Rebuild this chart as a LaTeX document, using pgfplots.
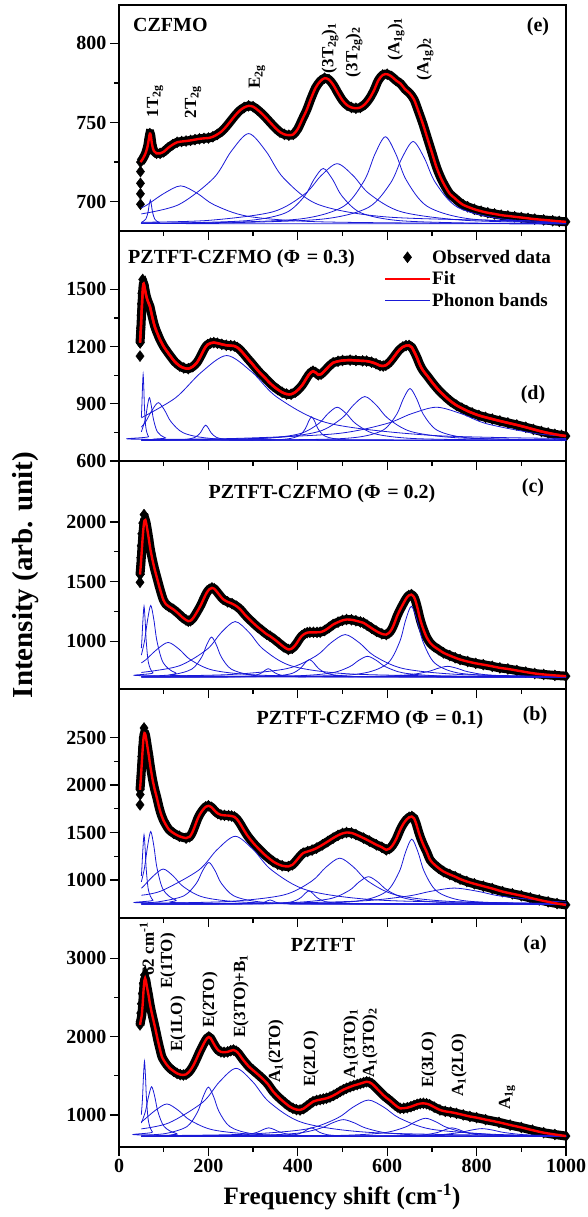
\documentclass[border=0pt]{standalone}
\usepackage{fontspec}
\setmainfont{Liberation Serif}
\usepackage{pgfplots}
\pgfplotsset{compat=1.18}
\usepackage{pgfplotstable}
\definecolor{bandblue}{RGB}{25,25,215}

\pgfplotstableread{
x y
48 725
52 726.5
56 728.5
60 731
64 735
67 740
69 743
71 742
74 736
78 732
84 730.5
92 730.5
100 731.5
110 734
120 736
130 737.5
140 738
150 738.3
160 738.7
170 739.2
180 739.7
190 740
200 740.2
210 741
220 742.5
230 744.5
240 747.5
250 751
260 754.5
270 757.5
280 759.5
290 760.5
300 760
310 758
320 755.5
330 752.6
340 749.5
350 746.5
360 744
370 742.5
380 742
390 742.5
400 746
410 752
420 758
430 765.5
440 772
450 776
460 778
470 777
480 773.5
490 768.5
500 764
510 761
520 759.5
530 759
540 759.5
550 761.5
560 765
570 770
580 776.5
590 780
600 780.5
610 779
620 776.5
630 774.5
640 771
650 768.5
660 764.5
670 757
680 749
690 740
700 731
710 722
720 715
730 709.5
740 705
750 702.5
760 700
770 698
780 696.8
795 695.2
810 694
825 693
840 692.3
855 691.5
870 691
885 690.5
900 690
915 689.5
930 689
950 688.5
970 688
985 687.6
1000 687.3
}\tabE

\pgfplotstableread{
x y
47 1220
49 1300
51 1400
53 1490
54.5 1528
56 1525
58 1500
61 1465
65 1435
69 1412
74 1360
80 1305
86 1268
92 1235
100 1200
107 1176
115 1150
125 1120
136 1098
145 1088
155 1084
165 1095
174 1115
180 1138
186 1165
192 1192
198 1210
205 1218
212 1221
220 1218
230 1212
240 1207
250 1205
258 1203
265 1195
272 1180
279 1162
286 1142
295 1118
305 1090
315 1063
325 1040
335 1015
345 993
355 975
365 960
375 951
385 950
395 962
405 984
412 1005
418 1028
424 1050
429 1064
434 1071
440 1064
446 1052
452 1055
458 1068
465 1085
472 1102
479 1115
490 1123
500 1127
517 1129
530 1127
545 1125
554 1124
565 1118
575 1110
584 1100
591 1098
597 1102
603 1112
609 1128
615 1146
621 1165
628 1185
635 1198
642 1205
649 1206
655 1196
661 1170
667 1140
673 1105
680 1075
690 1045
703 1005
715 972
728 942
741 915
755 892
767 877
778 864
790 852
805 839
820 829
835 820
852 810
870 800
890 789
910 777
927 766
945 755
960 747
975 740
990 734
1000 731
}\tabD

\pgfplotstableread{
x y
47 1559
49 1650
51 1760
53 1870
55 1960
57 2010
59 2015
61 1985
64 1920
67 1850
70 1775
75 1680
80 1600
84 1544
90 1460
95 1395
99 1349
105 1310
112 1290
122 1266
132 1235
142 1200
150 1178
155 1168
160 1172
166 1195
172 1230
178 1268
184 1310
190 1360
196 1405
202 1435
208 1447
213 1440
219 1415
226 1382
233 1352
243 1330
253 1315
263 1293
272 1265
281 1225
290 1190
300 1154
310 1120
320 1090
330 1060
338 1042
348 1015
358 985
368 955
379 931
388 942
396 975
403 1015
409 1045
415 1062
421 1072
427 1075
435 1075
443 1075
450 1076
460 1090
470 1115
479 1140
490 1160
500 1175
509 1182
520 1180
530 1172
540 1162
547 1154
555 1135
565 1110
576 1084
588 1062
598 1056
604 1070
610 1100
616 1150
622 1210
629 1266
636 1315
642 1355
648 1383
654 1391
660 1370
664 1330
668 1275
672 1210
676 1155
681 1100
688 1035
696 987
705 955
715 930
726 903
740 880
752 862
763 847
780 830
798 815
815 804
835 790
852 777
870 768
890 755
910 742
930 730
950 722
975 714
1000 708
}\tabC

\pgfplotstableread{
x y
47 1949
49 2080
51 2230
53 2380
55 2500
57 2546
59 2530
61 2480
64 2390
67 2300
70 2200
75 2060
80 1950
84 1879
90 1760
95 1680
99 1633
105 1580
112 1530
122 1493
135 1460
150 1441
158 1455
164 1500
170 1570
176 1645
182 1700
188 1740
194 1770
200 1781
207 1765
214 1730
221 1700
228 1685
236 1680
245 1678
252 1673
258 1665
264 1640
270 1600
277 1545
286 1476
295 1420
305 1365
315 1317
325 1270
335 1230
345 1194
355 1168
365 1150
379 1142
388 1160
396 1200
404 1245
412 1283
422 1300
432 1315
442 1335
455 1370
467 1405
479 1441
490 1470
500 1490
509 1500
520 1495
530 1478
547 1441
560 1410
576 1370
588 1345
598 1317
605 1330
612 1365
620 1430
629 1528
636 1590
643 1635
649 1660
655 1668
660 1650
665 1590
670 1510
675 1440
681 1370
688 1300
696 1212
705 1165
715 1125
726 1089
740 1058
752 1035
763 1010
778 984
795 960
815 935
835 910
858 878
880 855
900 835
920 812
940 790
960 770
980 752
1000 738
}\tabB

\pgfplotstableread{
x y
47 2150
49 2215
51 2276
53 2420
55 2600
57 2720
58.5 2745
60 2720
63 2620
66 2530
69 2425
73 2310
77 2210
82 2084
87 1950
92 1830
96 1743
101 1690
107 1640
114 1595
122 1560
130 1530
137 1515
144 1510
150 1518
156 1545
162 1590
168 1650
174 1723
180 1800
186 1870
192 1935
197 1980
201 1995
205 1980
210 1930
216 1870
222 1825
228 1805
235 1800
243 1805
250 1820
256 1829
262 1815
268 1780
273 1740
278 1701
284 1660
290 1620
300 1570
308 1531
320 1470
332 1400
345 1297
358 1220
372 1150
381 1110
389 1084
397 1068
405 1063
413 1080
420 1110
427 1140
434 1169
442 1185
450 1195
457 1203
464 1212
472 1228
480 1250
488 1275
495 1300
502 1322
509 1340
517 1358
525 1375
533 1388
540 1400
547 1413
554 1424
560 1418
566 1398
572 1365
578 1330
585 1290
591 1254
598 1220
605 1190
611 1160
617 1130
623 1103
629 1084
637 1085
645 1092
653 1105
660 1120
667 1135
674 1145
681 1148
688 1143
695 1130
705 1100
718 1063
730 1045
742 1035
755 1020
770 1000
785 980
800 965
820 940
850 905
875 871
900 840
925 805
950 773
975 750
1000 730
}\tabA

\pgfplotsset{
  panel/.style={
    scale only axis, width=447pt, anchor=north west,
    clip mode=individual,
    xmin=0, xmax=1000, xtick={0,200,...,1000}, minor x tick num=1,
    minor y tick num=1,
    xtick pos=left, ytick pos=left, tick align=outside,
    major tick length=9pt, minor tick length=5pt,
    axis line style={line width=1.3pt},
    every tick/.style={black, line width=1.3pt},
    tick label style={font=\fontsize{20}{20}\selectfont\bfseries},
    /pgf/number format/assume math mode=true,
    /pgf/number format/set thousands separator={},
  },
  bandl/.style={color=bandblue, line width=0.8pt, smooth},
  band/.style={bandl, forget plot},
  obsline/.style={black, line width=9pt, smooth, forget plot},
  obsmark/.style={only marks, mark=diamond*, mark size=5.5pt, black},
  fitline/.style={red, line width=2.4pt, smooth},
}

\begin{document}
\begin{tikzpicture}
\useasboundingbox (0pt,0pt) rectangle (587pt,-1217pt);

% ---------------- panel (e)
\begin{axis}[panel, at={(119pt,-5pt)}, height=226pt, ymin=681.5, ymax=824.2,
  ytick={700,750,800}, xticklabels={}]
\addplot[obsline] table {\tabE};
\addplot[obsmark] table {\tabE};
\addplot[obsmark, forget plot] coordinates {(48,698.4)(48,705)(48,711.6)(48,719)};
\addplot[band] coordinates {(50,686.9)(60,689)(65,693.5)(67.5,698)(70,701)(72.5,698)(75,693.5)(80,689)(90,686.9)(110,686.2)(1000,686)};
\addplot[band] coordinates {(50,696.1)(63,698)(100.5,705.2)(138,710)(175.5,705.2)(213,698)(288,690.8)(438,687.4)(738,686.4)(1000,686.2)};
\addplot[band] coordinates {(50,692.3)(134,698.2)(212,715)(251,731.8)(290,743)(329,731.8)(368,715)(446,698.2)(602,690.3)(914,687.9)(1000,687.7)};
\addplot[band] coordinates {(50,686.4)(121,686.5)(289,688.1)(373,693)(415,703.5)(436,714)(457,721)(478,714)(499,703.5)(541,693)(625,688.1)(793,686.5)(1000,686.2)};
\addplot[band] coordinates {(50,687)(200,688.2)(344,693.6)(416,705)(452,716.4)(488,724)(524,716.4)(560,705)(632,693.6)(776,688.2)(1000,686.7)};
\addplot[band] coordinates {(50,686.4)(220,686.8)(408,689.2)(502,697)(549,713.5)(572.5,730)(596,741)(619.5,730)(643,713.5)(690,697)(784,689.2)(972,686.8)(1000,686.7)};
\addplot[band] coordinates {(50,686.3)(258,686.8)(458,689.1)(558,696.4)(608,712)(633,727.6)(658,738)(683,727.6)(708,712)(758,696.4)(858,689.1)(1000,687.1)};
\addplot[fitline, forget plot] table {\tabE};
\end{axis}

% ---------------- panel (d)
\begin{axis}[panel, at={(119pt,-231pt)}, height=230pt, ymin=600, ymax=1806,
  ytick={600,900,1200,1500}, xticklabels={},
  legend image code/.code={\draw[mark repeat=2,mark phase=2,#1] plot coordinates {(0pt,0pt) (22pt,0pt) (44pt,0pt)};},
  legend style={at={(0.593,0.925)}, anchor=north west, draw=none, fill=none,
    font=\fontsize{19}{19}\selectfont\bfseries, row sep=4pt, inner sep=0pt,
    nodes={inner sep=1.5pt}, cells={anchor=west}}]
\addplot[obsline] table {\tabD};
\addplot[obsmark] table {\tabD};
\addlegendentry{Observed data}
\addplot[obsmark, forget plot] coordinates {(47,1150)(47.5,1220)(48,1295)(49,1365)(50,1425)(51,1480)(53,1552)};
\addplot[fitline] table {\tabD};
\addlegendentry{Fit}
\addplot[bandl] coordinates {(50,832)(51,880.5)(52.5,984)(54,1053)(55.5,984)(57,880.5)(60,777)(66,728)(78,713)(1000,708)};
\addlegendentry{Phonon bands}
\addplot[band] coordinates {(50,752.8)(59,820)(63.5,887.2)(68,932)(72.5,887.2)(77,820)(86,752.8)(104,721.2)(140,711.4)(1000,708)};
\addplot[band] coordinates {(50,777.7)(60,807)(74,866.4)(88,906)(102,866.4)(116,807)(144,747.6)(200,719.6)(312,711)(1000,708.2)};
\addplot[band] coordinates {(50,708.6)(98,709.2)(146,712.7)(170,724)(182,748)(188,772)(194,788)(200,772)(206,748)(218,724)(242,712.7)(290,709.2)(1000,708)};
\addplot[band] coordinates {(50,826.4)(126,930.5)(183.5,1064)(241,1153)(298.5,1064)(356,930.5)(471,797)(701,734.2)(1000,718)};
\addplot[band] coordinates {(50,708.2)(319,709.9)(375,715.3)(403,732.8)(417,770)(424,807.2)(431,832)(438,807.2)(445,770)(459,732.8)(487,715.3)(543,709.9)(1000,708.1)};
\addplot[band] coordinates {(50,709.6)(152,710.7)(320,718.2)(404,742.8)(446,795)(467,847.2)(488,882)(509,847.2)(530,795)(572,742.8)(656,718.2)(824,710.7)(1000,709.2)};
\addplot[band] coordinates {(50,710.5)(134,711.5)(342,721.5)(446,754)(498,823)(524,892)(550,938)(576,892)(602,823)(654,754)(758,721.5)(966,711.5)(1000,711)};
\addplot[band] coordinates {(50,708.7)(411,712.2)(531,724)(591,762.4)(621,844)(636,925.6)(651,980)(666,925.6)(681,844)(711,762.4)(771,724)(891,712.2)(1000,710)};
\addplot[band] coordinates {(50,713)(258,718.2)(484,742.8)(597,795)(653.5,847.2)(710,882)(766.5,847.2)(823,795)(936,742.8)(1000,730.8)};
\addplot[fitline, forget plot] table {\tabD};
\end{axis}

% ---------------- panel (c)
\begin{axis}[panel, at={(119pt,-461pt)}, height=228pt, ymin=600, ymax=2510,
  ytick={1000,1500,2000}, xticklabels={}]
\addplot[obsline] table {\tabC};
\addplot[obsmark] table {\tabC};
\addplot[obsmark, forget plot] coordinates {(47,1494)(47.5,1560)(48,1630)(48.5,1700)(49.5,1800)(51,1900)(53,1990)(56,2061)};
\addplot[band] coordinates {(50,943)(51,996.5)(53.5,1174)(56,1293)(58.5,1174)(61,996.5)(66,818.6)(76,734.9)(96,709.1)(1000,700)};
\addplot[band] coordinates {(50,884.6)(57,1000)(64,1180)(71,1300)(78,1180)(85,1000)(99,820)(127,735.3)(183,709.2)(1000,700)};
\addplot[band] coordinates {(50,819)(60,845)(85,932)(110,990)(135,932)(160,845)(210,758)(310,717)(510,704.5)(1000,701)};
\addplot[band] coordinates {(50,706.4)(119,719.7)(163,767)(185,867.5)(196,968)(207,1035)(218,968)(229,867.5)(251,767)(295,719.7)(383,705.2)(1000,700.3)};
\addplot[band] coordinates {(50,738.5)(134,793)(197,932.5)(228.5,1072)(260,1165)(291.5,1072)(323,932.5)(386,793)(512,727.3)(764,707.3)(1000,703.4)};
\addplot[band] coordinates {(50,700.1)(214,701.1)(274,704.1)(304,714)(319,735)(326.5,756)(334,770)(341.5,756)(349,735)(364,714)(394,704.1)(454,701.1)(1000,700)};
\addplot[band] coordinates {(50,700.4)(266,702.3)(346,708.6)(386,729.4)(406,773.5)(416,817.6)(426,847)(436,817.6)(446,773.5)(466,729.4)(506,708.6)(586,702.3)(1000,700.2)};
\addplot[band] coordinates {(50,707.1)(246,720.9)(376,771.2)(441,878)(473.5,984.8)(506,1056)(538.5,984.8)(571,878)(636,771.2)(766,720.9)(1000,706)};
\addplot[band] coordinates {(50,701.1)(236,702.7)(396,710.2)(476,734.8)(516,787)(536,839.2)(556,874)(576,839.2)(596,787)(636,734.8)(716,710.2)(876,702.7)(1000,701.4)};
\addplot[band] coordinates {(50,701.1)(446,709.1)(550,734.9)(602,818.6)(628,996.5)(641,1174)(654,1293)(667,1174)(680,996.5)(706,818.6)(758,734.9)(862,709.1)(1000,703.3)};
\addplot[band] coordinates {(50,700.4)(375,701.4)(555,705.3)(645,718)(690,745)(712.5,772)(735,790)(757.5,772)(780,745)(825,718)(915,705.3)(1000,702.5)};
\addplot[fitline, forget plot] table {\tabC};
\end{axis}

% ---------------- panel (b)
\begin{axis}[panel, at={(119pt,-689pt)}, height=229pt, ymin=600, ymax=3010,
  ytick={1000,1500,2000,2500}, xticklabels={}]
\addplot[obsline] table {\tabB};
\addplot[obsmark] table {\tabB};
\addplot[obsmark, forget plot] coordinates {(47,1791)(47.5,1900)(48,2000)(49,2100)(50,2200)(51,2300)(52.5,2400)(54,2500)(56,2600)};
\addplot[band] coordinates {(50,1044)(51,1110)(53.5,1329)(56,1475)(58.5,1329)(61,1110)(66,891)(76,787.9)(96,756.2)(1000,745)};
\addplot[band] coordinates {(50,980.4)(57,1127.5)(64,1357)(71,1510)(78,1357)(85,1127.5)(99,898)(127,790)(183,756.8)(1000,745)};
\addplot[band] coordinates {(50,914)(54,930)(76.5,1041)(99,1115)(121.5,1041)(144,930)(189,819)(279,766.8)(459,750.7)(1000,746)};
\addplot[band] coordinates {(50,759.7)(89,770.9)(145,833)(173,965)(187,1097)(201,1185)(215,1097)(229,965)(257,833)(313,770.9)(425,751.8)(1000,745.5)};
\addplot[band] coordinates {(50,839.7)(96,888)(178,1102.5)(219,1317)(260,1460)(301,1317)(342,1102.5)(424,888)(588,787)(916,756)(1000,753.7)};
\addplot[band] coordinates {(50,745)(242,745.7)(290,747.6)(314,754)(326,767.5)(332,781)(338,790)(344,781)(350,767.5)(362,754)(386,747.6)(434,745.7)(1000,745)};
\addplot[band] coordinates {(50,745.3)(281,747.2)(353,753.2)(389,773)(407,815)(416,857)(425,885)(434,857)(443,815)(461,773)(497,753.2)(569,747.2)(1000,745.1)};
\addplot[band] coordinates {(50,754.6)(242,773.5)(368,842)(431,987.5)(462.5,1133)(494,1230)(525.5,1133)(557,987.5)(620,842)(746,773.5)(1000,752.4)};
\addplot[band] coordinates {(50,747)(214,749.5)(386,762)(472,803)(515,890)(536.5,977)(558,1035)(579.5,977)(601,890)(644,803)(730,762)(902,749.5)(1000,747.7)};
\addplot[band] coordinates {(50,746.5)(431,755.5)(543,785.3)(599,882)(627,1087.5)(641,1293)(655,1430)(669,1293)(683,1087.5)(711,882)(767,785.3)(879,755.5)(1000,749.5)};
\addplot[band] coordinates {(50,748.7)(330,755)(540,779)(645,830)(697.5,881)(750,915)(802.5,881)(855,830)(960,779)(1000,770.5)};
\addplot[fitline, forget plot] table {\tabB};
\end{axis}

% ---------------- panel (a)
\begin{axis}[panel, at={(119pt,-918pt)}, height=229pt, ymin=590, ymax=3515,
  ytick={1000,2000,3000}]
\addplot[obsline] table {\tabA};
\addplot[obsmark] table {\tabA};
\addplot[obsmark, forget plot] coordinates {(47,2190)(48.5,2300)(50,2420)(52,2550)(54,2680)(57,2787)};
\addplot[band] coordinates {(50,1005)(52.5,1205)(54.75,1493)(57,1685)(59.25,1493)(61.5,1205)(66,917)(75,781.5)(93,739.8)(1000,725)};
\addplot[band] coordinates {(50,896.5)(59,1042.5)(66,1233)(73,1360)(80,1233)(87,1042.5)(101,852)(129,762.3)(185,734.8)(1000,725.1)};
\addplot[band] coordinates {(50,913)(55,932.5)(81,1057)(107,1140)(133,1057)(159,932.5)(211,808)(315,749.4)(523,731.4)(1000,726.4)};
\addplot[band] coordinates {(50,740.7)(104,762)(152,851)(176,1040)(188,1229)(200,1355)(212,1229)(224,1040)(248,851)(296,762)(392,734.7)(1000,725.6)};
\addplot[band] coordinates {(50,821.7)(112,899)(187,1160)(224.5,1421)(262,1595)(299.5,1421)(337,1160)(412,899)(562,776.2)(862,738.4)(1000,733.9)};
\addplot[band] coordinates {(50,725.8)(135,726.7)(235,731.5)(285,747)(310,780)(322.5,813)(335,835)(347.5,813)(360,780)(385,747)(435,731.5)(535,726.7)(1000,725.2)};
\addplot[band] coordinates {(50,725.2)(286,726.7)(358,731.5)(394,747)(412,780)(421,813)(430,835)(439,813)(448,780)(466,747)(502,731.5)(574,726.7)(1000,725.1)};
\addplot[band] coordinates {(50,727.6)(102,728.3)(302,737.6)(402,768)(452,832.5)(477,897)(502,940)(527,897)(552,832.5)(602,768)(702,737.6)(902,728.3)(1000,727.2)};
\addplot[band] coordinates {(50,733.6)(278,752.3)(418,818)(488,957.5)(523,1097)(558,1190)(593,1097)(628,957.5)(698,818)(838,752.3)(1000,736.4)};
\addplot[band] coordinates {(50,726.3)(310,728.6)(498,738.6)(592,771.4)(639,841)(662.5,910.6)(686,957)(709.5,910.6)(733,841)(780,771.4)(874,738.6)(1000,730.1)};
\addplot[band] coordinates {(50,725.2)(505,726.7)(625,731.5)(685,747)(715,780)(730,813)(745,835)(760,813)(775,780)(805,747)(925,731.5)(1000,726.5)};
\addplot[band] coordinates {(50,725.4)(412,726.5)(612,730.9)(712,745)(762,775)(787,805)(812,825)(837,805)(862,775)(912,745)(1000,731.6)};
\addplot[fitline, forget plot] table {\tabA};
\end{axis}

% ---------------- texts
\begin{scope}[every node/.style={font=\fontsize{20}{20}\selectfont\bfseries, inner sep=0pt}]
\node[anchor=west] at (133pt,-25pt) {CZFMO};
\node at (538pt,-27pt) {(e)};
\node[anchor=west] at (128pt,-259pt) {PZTFT-CZFMO (Φ\,\,= 0.3)};
\node at (533pt,-395pt) {(d)};
\node at (322pt,-494pt) {PZTFT-CZFMO (Φ\,\,= 0.2)};
\node at (533pt,-488pt) {(c)};
\node at (370pt,-720pt) {PZTFT-CZFMO (Φ\,\,= 0.1)};
\node at (535pt,-716pt) {(b)};
\node at (323pt,-945pt) {PZTFT};
\node at (535pt,-945pt) {(a)};
\end{scope}

\begin{scope}[every node/.style={font=\fontsize{17}{17}\selectfont\bfseries, inner sep=0pt, rotate=90}]
\node at (155pt,-101pt) {1T\textsubscript{2g}};
\node at (193pt,-102pt) {2T\textsubscript{2g}};
\node at (257pt,-77pt) {E\textsubscript{2g}};
\node at (330pt,-48pt) {(3T\textsubscript{2g})\textsubscript{1}};
\node at (354pt,-52pt) {(3T\textsubscript{2g})\textsubscript{2}};
\node at (396pt,-39pt) {(A\textsubscript{1g})\textsubscript{1}};
\node at (425pt,-59pt) {(A\textsubscript{1g})\textsubscript{2}};
\node at (147pt,-949pt) {62 cm\textsuperscript{-1}};
\node at (168pt,-961pt) {E(1TO)};
\node at (178pt,-1024pt) {E(1LO)};
\node at (210pt,-1000pt) {E(2TO)};
\node at (241pt,-996pt) {E(3TO)+B\textsubscript{1}};
\node at (276pt,-1051pt) {A\textsubscript{1}(2TO)};
\node at (311pt,-1059pt) {E(2LO)};
\node at (351pt,-1044pt) {A\textsubscript{1}(3TO)\textsubscript{1}};
\node at (370pt,-1043pt) {A\textsubscript{1}(3TO)\textsubscript{2}};
\node at (429pt,-1060pt) {E(3LO)};
\node at (459pt,-1065pt) {A\textsubscript{1}(2LO)};
\node at (507pt,-1097pt) {A\textsubscript{1g}};
\end{scope}

\node[font=\fontsize{25}{25}\selectfont\bfseries, inner sep=0pt] at (342pt,-1197pt) {Frequency shift (cm\textsuperscript{-1})};
\node[font=\fontsize{29}{29}\selectfont\bfseries, inner sep=0pt, rotate=90] at (26pt,-575pt) {Intensity (arb. unit)};
\end{tikzpicture}
\end{document}
